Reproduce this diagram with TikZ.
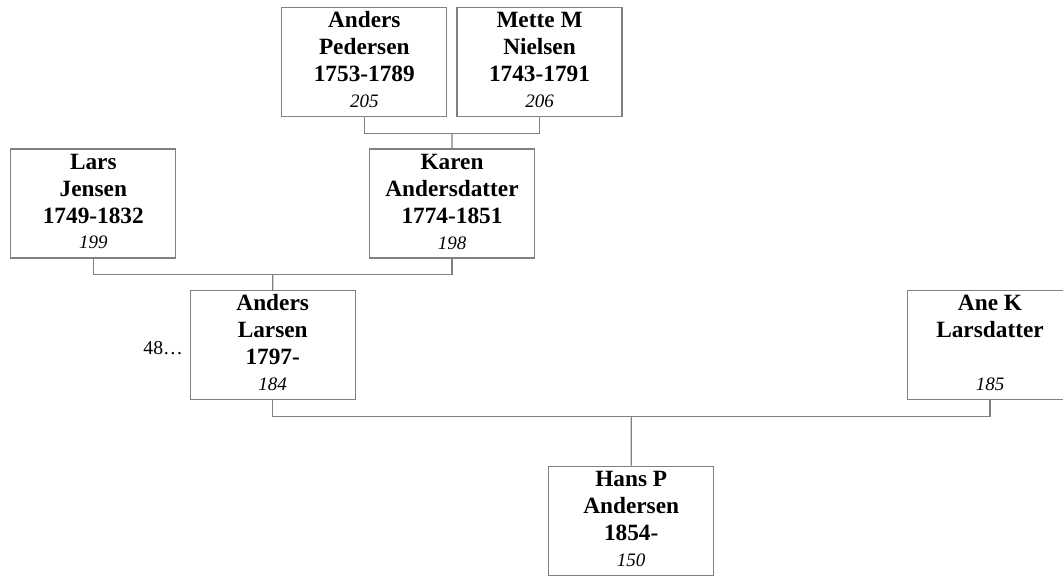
\documentclass[tikz,border=0pt]{standalone}
\usepackage{fontspec}
\setmainfont{Liberation Serif}
\usetikzlibrary{calc}
\definecolor{linegray}{RGB}{128,128,128}
\newcommand\personbox[4]{\parbox[c][109pt][t]{165pt}{\centering\fontsize{23.3}{27}\selectfont\bfseries\rule{0pt}{20.3pt}#1\\#2\\#3\\[-1.3pt]{\fontsize{19}{23}\selectfont\mdseries\itshape #4}\par}}
\tikzset{
  person/.style={draw=linegray, line width=1.2pt, rectangle, inner sep=0pt, fill=white},
  conn/.style={draw=linegray, line width=1.2pt},
  moretext/.style={anchor=base east, inner sep=0pt, font=\fontsize{19.7}{22}\selectfont}
}
\begin{document}
\begin{tikzpicture}[x=1pt,y=-1pt]
\useasboundingbox (0,0) rectangle (1063,577);
\clip (0,0) rectangle (1063,577);
\node[person] (ap) at (364.3,62.2) {\personbox{Anders}{Pedersen}{1753-1789}{205}};
\node[person] (mn) at (539.5,62.2) {\personbox{Mette M}{Nielsen}{1743-1791}{206}};
\node[person] (lj) at (93.3,203.5) {\personbox{Lars}{Jensen}{1749-1832}{199}};
\node[person] (ka) at (452,203.6) {\personbox{Karen}{Andersdatter}{1774-1851}{198}};
\node[person] (al) at (272.7,345) {\personbox{Anders}{Larsen}{1797-}{184}};
\node[person] (ak) at (990,345) {\personbox{Ane K}{Larsdatter}{\mbox{}}{185}};
\node[person] (hp) at (631.2,520.8) {\personbox{Hans P}{Andersen}{1854-}{150}};
\node[moretext] (more) at (183,354.3) {48…};
% connectors
\coordinate (j1) at ($(ap.south)!.5!(mn.south)+(0,16)$);
\draw[conn] (ap.south) |- (j1) -| (mn.south);
\draw[conn] (j1) -- (ka.north);
\coordinate (j2) at ($(lj.south)!.5!(ka.south)+(0,16)$);
\draw[conn] (lj.south) |- (j2) -| (ka.south);
\draw[conn] (j2) -- (al.north);
\coordinate (j3) at ($(al.south)!.5!(ak.south)+(0,16)$);
\draw[conn] (al.south) |- (j3) -| (ak.south);
\draw[conn] (j3) -- (hp.north);
\end{tikzpicture}
\end{document}
